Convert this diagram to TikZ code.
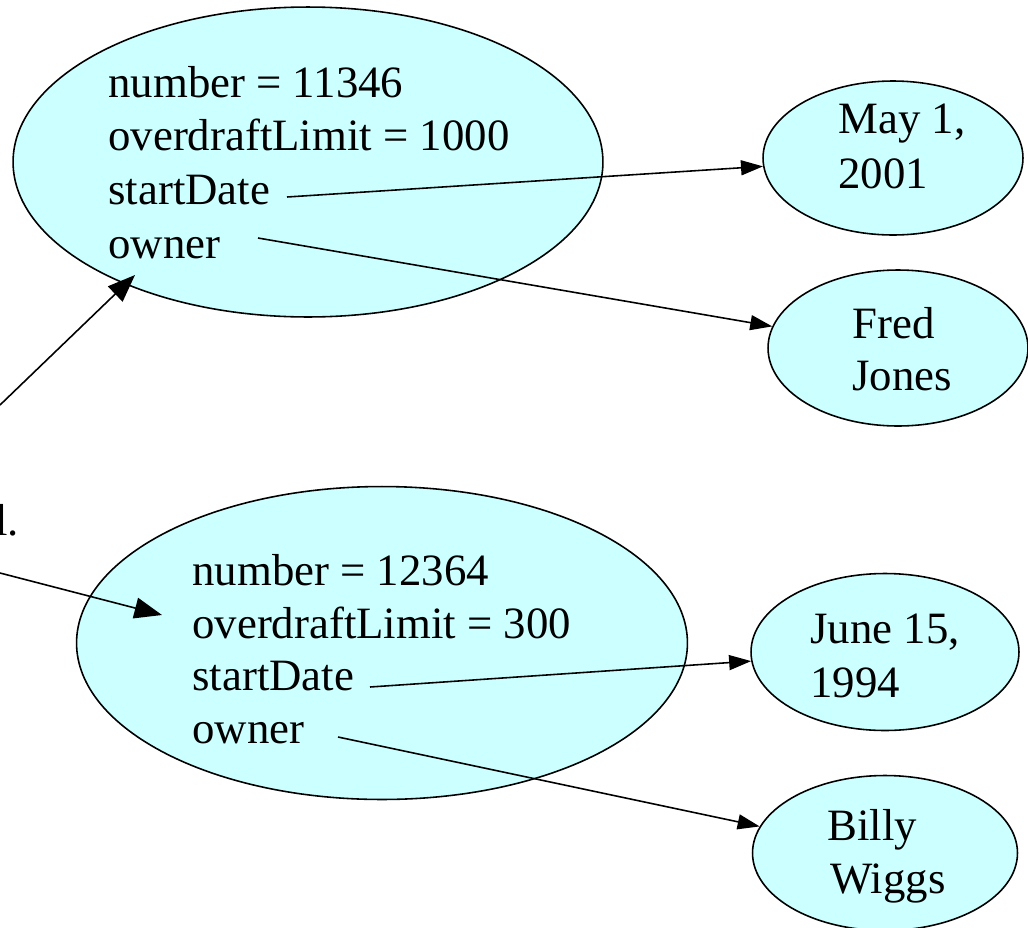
\documentclass[tikz,border=0pt]{standalone}
\usepackage{fontspec}
\setmainfont{Liberation Serif}
\usetikzlibrary{arrows.meta,shapes.geometric}
\definecolor{objcyan}{HTML}{CCFFFF}
\tikzset{
  obj/.style={ellipse,draw,fill=objcyan,line width=.9pt,inner sep=0pt},
  txt/.style={anchor=base west,inner sep=0pt,font=\fontsize{25.5}{29}\selectfont},
  ref/.style={line width=.9pt,-{Triangle[length=.44cm,width=.3cm]}},
  bigref/.style={line width=.9pt,-{Triangle[length=.55cm,width=.42cm]}}
}
\begin{document}
\begin{tikzpicture}[x=.02cm,y=-.02cm]
\clip (0,0) rectangle (1028,927);
\useasboundingbox (0,0) rectangle (1028,927);
% objects
\node[obj,minimum width=11.8cm,minimum height=6.2cm] (acc1) at (308,162){};
\node[obj,minimum width=12.22cm,minimum height=6.26cm] (acc2) at (382,643){};
\node[obj,minimum width=5.2cm,minimum height=3.08cm] (may) at (893,158){};
\node[obj,minimum width=5.2cm,minimum height=3.12cm] (fred) at (898,348){};
\node[obj,minimum width=5.36cm,minimum height=3.14cm] (june) at (885,652){};
\node[obj,minimum width=5.3cm,minimum height=3.1cm] (billy) at (885,853){};
% fields
\node[txt] (n1) at (108,97){number = 11346};
\node[txt] (o1) at (108,150){overdraftLimit = 1000};
\node[txt] (s1) at (108,204){startDate};
\node[txt] (w1) at (108,258){owner};
\node[txt] (n2) at (192,585){number = 12364};
\node[txt] (o2) at (192,638){overdraftLimit = 300};
\node[txt] (s2) at (192,690){startDate};
\node[txt] (w2) at (192,743){owner};
\node[txt] (mayt) at (838,133){May 1,};
\node[txt] (mayy) at (838,188){2001};
\node[txt] (fredt) at (852,338){Fred};
\node[txt] (fredy) at (852,390){Jones};
\node[txt] (junet) at (810,643){June 15,};
\node[txt] (juney) at (810,697){1994};
\node[txt] (billyt) at (827,840){Billy};
\node[txt] (billyy) at (830,893){Wiggs};
\node[txt] (cut) at (-5,535){l.};
% links
\coordinate (s1e) at (287,197);\coordinate (w1e) at (258,238);
\coordinate (s2e) at (370,687);\coordinate (w2e) at (338,737);
\coordinate (ref1) at (0,405);\coordinate (tip1) at (135,275);
\coordinate (ref2) at (0,573);\coordinate (tip2) at (162,615);
\draw[ref] (s1e) -- (may);
\draw[ref] (w1e) -- (fred);
\draw[ref] (s2e) -- (june);
\draw[ref] (w2e) -- (billy);
\draw[bigref] (ref1) -- (tip1);
\draw[bigref] (ref2) -- (tip2);
\end{tikzpicture}
\end{document}
